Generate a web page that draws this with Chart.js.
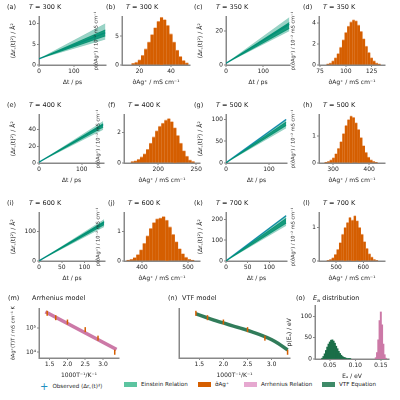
<!DOCTYPE html>
<html><head><meta charset="utf-8">
<script src="https://cdn.jsdelivr.net/npm/chart.js@4"></script>
<style>
body{margin:0;width:400px;height:400px;background:#fff;position:relative;overflow:hidden;font-family:'DejaVu Sans';}
canvas{position:absolute;}
.lab{position:absolute;font-size:6.5px;color:#222;white-space:nowrap;}
.leg{position:absolute;top:381px;font-size:5.6px;color:#222;white-space:nowrap;}
.sw{display:inline-block;width:13px;height:5px;vertical-align:middle;margin-right:4px;}
</style></head><body>
<script>
// temperatures and Einstein relation bands (start value, lower/upper end, inner band)
var temps = [300, 350, 400, 500, 600, 700];
var tEnd = [190, 170, 150, 140, 143, 139];
var msdStart = [1.5, 1.0, 1.0, 0.5, 0.5, 0.5];
var msdLow = [6.2, 20, 40, 80, 115, 170];
var msdHigh = [10, 28, 50, 100, 140, 220];
var msdInLow = [7, 21.5, 43, 86, 122, 182];
var msdInHigh = [8.5, 25, 47, 94, 133, 205];
var obsEnd = [7.8, 24, 46, 100, 130, 218];

// conductivity histograms
var histX = [
  [16,18,20,22,24,26,28,30,32,34,36,38,40,42,44,46,48,50],
  [82.5,85,87.5,90,92.5,95,97.5,100,102.5,105,107.5,110,112.5,115,117.5,120,122.5,125,127.5,130,132.5],
  [166,170,174,178,182,186,190,194,198,202,206,210,214,218,222,226,230,234,238,242,246],
  [280,287,294,301,308,315,322,329,336,343,350,357,364,371,378,385,392,399,406,413,420],
  [370,377,384,391,398,405,412,419,426,433,440,447,454,461,468,475,482,489,496,503,510],
  [470,479,488,497,506,515,524,533,542,551,560,569,578,587,596,605,614,623,632,641,650]
];
var histY = [
  [0.3,0.5,0.9,1.7,2.8,4.0,5.3,6.5,7.6,8.3,7.9,6.9,5.4,4.0,2.6,1.5,0.8,0.4],
  [0.1,0.2,0.4,0.7,1.1,1.7,2.4,3.1,3.7,4.1,4.3,4.2,3.8,3.2,2.5,1.8,1.2,0.7,0.4,0.2,0.1],
  [0.1,0.15,0.25,0.4,0.6,0.9,1.3,1.7,2.1,2.4,2.6,2.8,2.9,2.7,2.3,1.8,1.3,0.8,0.45,0.2,0.1],
  [0.03,0.06,0.12,0.2,0.35,0.55,0.8,1.1,1.4,1.62,1.75,1.7,1.5,1.25,0.95,0.65,0.4,0.22,0.12,0.06,0.03],
  [0.03,0.06,0.12,0.22,0.38,0.6,0.85,1.1,1.3,1.42,1.45,1.5,1.38,1.15,0.9,0.65,0.42,0.25,0.13,0.06,0.03],
  [0.02,0.05,0.1,0.2,0.35,0.55,0.8,1.0,1.15,1.3,1.22,1.35,1.2,1.0,0.8,0.58,0.38,0.22,0.12,0.05,0.02]
];

// Arrhenius / VTF
var invT = [1.43, 1.67, 2.0, 2.5, 2.86, 3.33];
var sigmaT = [4.0e5, 2.64e5, 1.75e5, 8.5e4, 3.8e4, 1.0e4];
var arrX = [1.38, 3.38];
var arrY = [4.6e5, 1.3e4];
var vtfX = [1.43, 1.6, 1.8, 2.0, 2.2, 2.4, 2.6, 2.8, 3.0, 3.15, 3.33];
var vtfY = [3.8e5, 2.9e5, 2.1e5, 1.6e5, 1.2e5, 9.2e4, 6.8e4, 4.9e4, 3.3e4, 2.2e4, 1.25e4];

// activation energy histograms
var eaX = [0.035,0.0375,0.04,0.0425,0.045,0.0475,0.05,0.0525,0.055,0.0575,0.06,0.0625,0.065,0.0675,0.07,0.0725,0.075,0.0775,0.08,0.0825,0.085,0.0875,0.09];
var eaVtf = [2,6,12,20,28,35,40,44,45,42,37,30,24,18,13,9,6,4,3,2,1,0.6,0.3];
var eaPinkX = [0.14,0.1425,0.145,0.1475,0.15,0.1525,0.155,0.1575,0.16];
var eaPink = [3,15,45,90,110,80,35,10,2];

var F = 'DejaVu Sans';
var AX = '#888';
var LW = 30, BH = 22;
var GREEN = 'rgba(0,145,112,';
var ORANGE = '#d55e00';
var PINK = '#cc79a7';
var DKG = '#1b6e48';

function toPts(xs, ys){ return xs.map(function(x,i){ return {x:x, y:ys[i]}; }); }

function axis(min, max, ticks, title, opts){
  var s = {
    type: (opts && opts.type) || 'linear', min:min, max:max, offset:false,
    grid:{display:true, drawOnChartArea:false, tickLength:2, color:AX, offset:false}, border:{color:AX, width:1.5},
    ticks:{font:{family:F,size:6}, color:'#222', padding:1, maxRotation:0, autoSkip:false},
    title:{display:!!title, text:title, font:{family:F,size:(opts&&opts.ts)||6}, color:'#222', padding:1}
  };
  if (ticks) {
    s.afterBuildTicks = function(sc){ sc.ticks = ticks.map(function(v){ return {value:v}; }); };
  }
  if (opts && opts.cb) s.ticks.callback = opts.cb;
  if (opts && opts.noTicks) { s.ticks.display = false; s.grid.display = false; }
  return s;
}

function panel(x0, y0, x1, y1, type, datasets, xs, ys){
  var c = document.createElement('canvas');
  var w = x1 - x0 + LW + 6, h = y1 - y0 + 4 + BH;
  c.style.left = (x0 - LW) + 'px'; c.style.top = (y0 - 4) + 'px';
  c.width = w; c.height = h;
  document.body.appendChild(c);
  xs.afterFit = function(s){ s.height = BH; };
  ys.afterFit = function(s){ s.width = LW; };
  new Chart(c.getContext('2d'), {
    type: type,
    data: {datasets: datasets},
    options: {
      responsive:false, animation:false, devicePixelRatio:2,
      layout:{padding:{top:4, right:6, left:0, bottom:0}},
      plugins:{legend:{display:false}, tooltip:{enabled:false}},
      scales:{x:xs, y:ys}
    }
  });
}

function label(x, y, html){
  var d = document.createElement('div'); d.className = 'lab';
  d.style.left = x + 'px'; d.style.top = y + 'px'; d.innerHTML = html;
  document.body.appendChild(d);
}

var letters = ['a','b','c','d','e','f','g','h','i','j','k','l'];
var msdBox = [[39,16,106,65],[226,16,290,65],[39,114,104,163],[226,114,287,163],[39,212,105,261],[226,212,287,261]];
var msdMax = [11.7, 28.5, 58, 111, 163, 233];
var msdTicks = [[0,5,10],[0,20],[0,20,40],[0,50,100],[0,100],[0,100,200]];
var tTicks = [[0,100],[0,100],[0,100],[0,100],[0,50,100],[0,50,100]];
var histBox = [[122,16,190,65],[319,16,385,65],[124,114,200,163],[319,114,385,163],[124,212,200,261],[319,212,385,261]];
var histMin = [9, 74, 155, 261, 361, 437];
var histMax = [52, 138, 255, 444, 526, 680];
var histYMax = [8.4, 4.6, 3.15, 1.8, 1.63, 1.44];
var hxTicks = [[20,40],[75,100,125],[200,250],[300,400],[400,500],[500,600]];
var hyTicks = [[0,5],[0,2,4],[0,2],[0,1],[0,1],[0,1]];

for (var k = 0; k < 6; k++) {
  var b = msdBox[k];
  var ex = [0, tEnd[k]];
  panel(b[0], b[1], b[2], b[3], 'line', [
    {data: toPts(ex, [msdStart[k], obsEnd[k]]), borderColor:'#1f8fc0', borderWidth:1.4, pointRadius:0, order:10},
    {data: toPts(ex, [msdStart[k], msdLow[k]]), borderColor:GREEN+'0.25)', borderWidth:0.5, pointRadius:0, order:5},
    {data: toPts(ex, [msdStart[k], msdHigh[k]]), borderColor:GREEN+'0.25)', borderWidth:0.5, pointRadius:0, fill:'-1', backgroundColor:GREEN+'0.4)', order:4},
    {data: toPts(ex, [msdStart[k], msdInLow[k]]), borderColor:GREEN+'0.9)', borderWidth:0.8, pointRadius:0, order:3},
    {data: toPts(ex, [msdStart[k], msdInHigh[k]]), borderColor:GREEN+'0.9)', borderWidth:0.8, pointRadius:0, fill:'-1', backgroundColor:GREEN+'0.85)', order:2}
  ], axis(0, tEnd[k] + 2, tTicks[k], 'Δt / ps'),
     axis(0, msdMax[k], msdTicks[k], '⟨Δr꜀(t)²⟩ / Å²', {ts:6}));
  var h = histBox[k];
  panel(h[0], h[1], h[2], h[3], 'bar', [
    {data: toPts(histX[k], histY[k]), backgroundColor:ORANGE, borderColor:'#f0b890', borderWidth:{top:0.8,left:0,right:0,bottom:0}, barPercentage:1, categoryPercentage:1}
  ], axis(histMin[k], histMax[k], hxTicks[k], 'σ̂Ag⁺ / mS cm⁻¹'),
     axis(0, histYMax[k], hyTicks[k], 'p(σ̂Ag⁺) / 10⁻² mS cm⁻¹', {ts:5}));
  label(b[0] - 32, b[1] - 13, '(' + letters[2*k] + ')');
  label(b[0] - 10, b[1] - 13, '<i>T</i> = ' + temps[k] + ' K');
  label(h[0] - 16, h[1] - 13, '(' + letters[2*k+1] + ')');
  label(h[0] + 4, h[1] - 13, '<i>T</i> = ' + temps[k] + ' K');
}

var logCb = function(v){ return v === 1e4 ? '10⁴' : (v === 1e5 ? '10⁵' : ''); };

panel(39, 307, 119, 358, 'line', [
  {data: toPts(arrX, arrY), borderColor:PINK, borderWidth:3.5, pointRadius:0, order:5},
  {data: toPts(invT, sigmaT), showLine:false, pointStyle:'line', rotation:90, pointRadius:2.5, borderColor:ORANGE, borderWidth:1.5, order:1}
], axis(1.2, 3.45, [1.5,2.0,2.5,3.0], '1000T⁻¹/K⁻¹', {cb:function(v){return v.toFixed(1);}}),
   axis(5800, 6.3e5, [1e4,1e5], 'σ̂Ag⁺(T)T / mS cm⁻¹ K', {type:'logarithmic', cb:logCb, ts:5}));

panel(179, 307, 290, 358, 'line', [
  {data: toPts(vtfX, vtfY), borderColor:'rgba(27,110,72,0.9)', borderWidth:3.5, pointRadius:0, tension:0.4, order:5},
  {data: toPts(invT, sigmaT), showLine:false, pointStyle:'line', rotation:90, pointRadius:2.5, borderColor:ORANGE, borderWidth:1.5, order:1}
], axis(1.08, 3.38, [1.5,2.0,2.5,3.0], '1000T⁻¹/K⁻¹', {cb:function(v){return v.toFixed(1);}}),
   axis(5800, 6.3e5, null, '', {type:'logarithmic', noTicks:true}));

panel(315, 305, 389, 359, 'bar', [
  {data: toPts(eaX, eaVtf), backgroundColor:DKG, barPercentage:1, categoryPercentage:1, grouped:false},
  {data: toPts(eaPinkX, eaPink), backgroundColor:PINK, barPercentage:1, categoryPercentage:1, grouped:false}
], axis(0.021, 0.166, [0.05,0.1,0.15], 'Eₐ / eV', {cb:function(v){return v.toFixed(2);}}),
   axis(0, 125, [0,50,100], 'p(Eₐ) / eV', {ts:6}));

label(8, 294, '(m)'); label(32, 294, 'Arrhenius model');
label(168, 294, '(n)'); label(182, 294, 'VTF model');
label(296, 294, '(o)'); label(313, 294, '<i>E</i><sub style="font-size:5px">a</sub> distribution');

var legs = [
  [40, '<span style="color:#1f8fc0;font-size:10px;vertical-align:middle;margin-right:4px">+</span>Observed ⟨Δr꜀(t)²⟩'],
  [124, '<span class="sw" style="background:#5cc4a0"></span>Einstein Relation'],
  [198, '<span class="sw" style="background:' + ORANGE + '"></span>σ̂Ag⁺'],
  [244, '<span class="sw" style="background:#e6a8d0"></span>Arrhenius Relation'],
  [322, '<span class="sw" style="background:#3e8a68"></span>VTF Equation']
];
legs.forEach(function(l){
  var d = document.createElement('div'); d.className = 'leg';
  d.style.left = l[0] + 'px'; d.innerHTML = l[1];
  document.body.appendChild(d);
});
</script>
</body></html>
